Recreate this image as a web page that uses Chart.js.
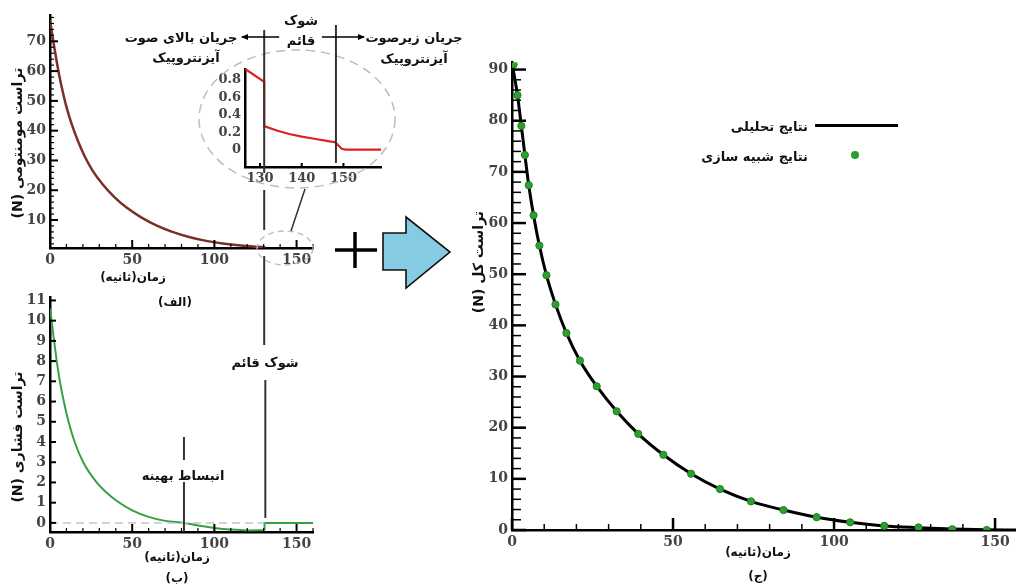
<!DOCTYPE html>
<html lang="fa">
<head>
<meta charset="utf-8">
<title>Thrust</title>
<script src="https://cdn.jsdelivr.net/npm/chart.js@4.4.1/dist/chart.umd.min.js"></script>
<style>
  html, body { margin: 0; padding: 0; background: #fff; }
  #page { position: relative; width: 1016px; height: 584px; overflow: hidden; background: #fff; }
  .plot { position: absolute; z-index: 1; }
  #deco { position: absolute; left: 0; top: 0; z-index: 2; }
  .fa { position: absolute; direction: rtl; white-space: nowrap; font-family: "DejaVu Sans", sans-serif;
        font-weight: bold; font-size: 13px; color: #111; line-height: 1; z-index: 3;
        transform: translate(-50%, -50%); }
  .rot { transform: translate(-50%, -50%) rotate(-90deg); }
  .key { position: absolute; z-index: 3; }
</style>
</head>
<body>
<div id="page">
  <svg id="deco" width="1016" height="584">
    <defs>
      <marker id="ah" markerWidth="7" markerHeight="6" refX="6" refY="3" orient="auto" markerUnits="userSpaceOnUse">
        <path d="M0,0 L7,3 L0,6 z" fill="#000"/>
      </marker>
    </defs>
    <!-- zoom ellipses -->
    <ellipse cx="297" cy="119" rx="98" ry="69" fill="none" stroke="#bdbdbd" stroke-width="1.5" stroke-dasharray="9 6"/>
    <ellipse cx="285" cy="248" rx="28" ry="17" fill="none" stroke="#bdbdbd" stroke-width="1.3" stroke-dasharray="6 4"/>
    <line x1="291" y1="231" x2="305" y2="189" stroke="#333" stroke-width="1.5"/>
    <!-- plus and arrow -->
    <line x1="335" y1="250" x2="377" y2="250" stroke="#000" stroke-width="3.5"/>
    <line x1="355" y1="232" x2="355" y2="268" stroke="#000" stroke-width="3.5"/>
    <polygon points="383,233 406,233 406,217 450,252 406,288 406,270 383,270" fill="#86cbe4" stroke="#111" stroke-width="1.6"/>
    <g id="marks" stroke="#333" stroke-width="2"></g>
  </svg>

  <div class="fa" style="left:181px;top:37px">جریان بالای صوت</div>
  <div class="fa" style="left:186px;top:57px">آیزنتروپیک</div>
  <div class="fa" style="left:301px;top:20px">شوک</div>
  <div class="fa" style="left:301px;top:40px">قائم</div>
  <div class="fa" style="left:414px;top:37px">جریان زیرصوت</div>
  <div class="fa" style="left:414px;top:58px">آیزنتروپیک</div>

  <div class="fa" style="left:133px;top:277px;font-size:12px">زمان(ثانیه)</div>
  <div class="fa" style="left:175px;top:302px;font-size:12px">(الف)</div>
  <div class="fa" style="left:265px;top:362px">شوک قائم</div>
  <div class="fa" style="left:183px;top:475px">انبساط بهینه</div>
  <div class="fa" style="left:177px;top:557px;font-size:12px">زمان(ثانیه)</div>
  <div class="fa" style="left:177px;top:578px;font-size:12px">(ب)</div>
  <div class="fa" style="left:758px;top:552px;font-size:12px">زمان(ثانیه)</div>
  <div class="fa" style="left:758px;top:576px;font-size:12px">(ج)</div>

  <div class="fa rot" style="left:17px;top:143px;font-size:14px">تراست مومنتومی (N)</div>
  <div class="fa rot" style="left:17px;top:437px;font-size:14px">تراست فشاری (N)</div>
  <div class="fa rot" style="left:478px;top:262px;font-size:14px">تراست کل (N)</div>

  <!-- legend of (ج) -->
  <div class="key" style="left:815px;top:124px;width:83px;height:3px;background:#000"></div>
  <div class="fa" style="left:auto;right:208px;top:126px;transform:translateY(-50%)">نتایج تحلیلی</div>
  <div class="key" style="left:851px;top:151px;width:8px;height:8px;border-radius:50%;background:#2e9e2e"></div>
  <div class="fa" style="left:auto;right:208px;top:156px;transform:translateY(-50%)">نتایج شبیه سازی</div>
</div>

<script>
// ---- values ----
// (الف) momentum thrust (N) vs time (s)
const momTime   = [0, 2, 4, 6, 8, 10, 13, 17, 21, 26, 32, 39, 47, 56, 65, 74, 84, 95, 105, 116, 126, 131];
const momThrust = [77, 70, 63.5, 57.5, 52.5, 48, 42.5, 36.5, 31.5, 26.5, 22, 17.8, 14, 10.7, 8.1, 6.1, 4.4, 3, 2.1, 1.4, 1, 0.85];

// zoomed window of (الف) around the shock
const zoomTime   = [126.4, 131, 131, 134, 137, 140, 143, 146, 148, 149.6, 150.5, 159];
const zoomThrust = [0.93, 0.78, 0.27, 0.22, 0.18, 0.15, 0.125, 0.1, 0.085, 0.01, 0, 0];

// (ب) pressure thrust
const presTime   = [0, 1, 2, 4.1, 5.8, 8.4, 11.3, 15, 20.2, 28.4, 35, 40.7, 50, 60, 70, 81.5, 90, 100, 110, 120, 130.5];
const presThrust = [10.6, 10, 9.3, 8, 7.1, 6, 5, 4, 3, 2, 1.45, 1.08, 0.62, 0.3, 0.1, 0, -0.13, -0.25, -0.33, -0.37, -0.36];
const presShockTime   = [130.5, 130.5, 160];
const presShockThrust = [-0.36, 0, 0];
const zeroRefTime  = [0, 130.5];
const zeroRefValue = [0, 0];

// (ج) total thrust
const anaTime   = [0, 1.7, 2.9, 4, 5.2, 6.7, 8.5, 10.7, 13.5, 16.9, 21.1, 26.3, 32.5, 39.2, 47, 55.6, 64.6, 74.2, 84.3, 94.6, 105, 115.6, 126.2, 136.7, 147.4, 157];
const anaThrust = [91.4, 85, 79, 73.3, 67.4, 61.5, 55.6, 49.8, 44.1, 38.5, 33.1, 28.1, 23.2, 18.8, 14.7, 11, 8, 5.6, 3.9, 2.5, 1.5, 0.8, 0.45, 0.18, 0.03, 0];
const simTime   = [0.5, 1.7, 2.9, 4, 5.2, 6.7, 8.5, 10.7, 13.5, 16.9, 21.1, 26.3, 32.5, 39.2, 47, 55.6, 64.6, 74.2, 84.3, 94.6, 105, 115.6, 126.2, 136.7, 147.4];
const simThrust = [91, 85, 79, 73.3, 67.4, 61.5, 55.6, 49.8, 44.1, 38.5, 33.1, 28.1, 23.2, 18.8, 14.7, 11, 8, 5.6, 3.9, 2.5, 1.5, 0.8, 0.5, 0.15, 0];

// tick labels
const xTicksMain   = [0, 50, 100, 150];
const yTicksMom    = [10, 20, 30, 40, 50, 60, 70];
const yTicksPres   = [0, 1, 2, 3, 4, 5, 6, 7, 8, 9, 10, 11];
const yTicksTotal  = [0, 10, 20, 30, 40, 50, 60, 70, 80, 90];
const xTicksZoom   = [130, 140, 150];
const yTicksZoom   = [0, 0.2, 0.4, 0.6, 0.8];

// event times (s)
const shockT     = 131;
const optExpT    = 81.5;
const exitShockT = 148.2;

// ---- layout: plot areas in page pixels ----
const boxA = { l: 50,  r: 313,  t: 13,  b: 248,   yW: 50, xH: 24, pt: 10, pr: 6 };
const boxB = { l: 50,  r: 313,  t: 295, b: 531.7, yW: 50, xH: 24, pt: 10, pr: 6 };
const boxC = { l: 512, r: 1016, t: 60,  b: 530,   yW: 60, xH: 26, pt: 10, pr: 6 };
const boxD = { l: 245, r: 381,  t: 61,  b: 166.7, yW: 36, xH: 20, pt: 4,  pr: 4 };

const page = document.getElementById('page');

// inward tecplot-like ticks
const inTicks = {
  id: 'inTicks',
  afterDatasetsDraw(chart, args, opts) {
    const ctx = chart.ctx, a = chart.chartArea;
    ctx.save();
    ctx.strokeStyle = '#000';
    ['x', 'y'].forEach(k => {
      const o = opts[k];
      if (!o) return;
      const s = chart.scales[k];
      const n0 = Math.ceil(s.min / o.minor - 1e-9), n1 = Math.floor(s.max / o.minor + 1e-9);
      for (let i = n0; i <= n1; i++) {
        const v = i * o.minor;
        const major = Math.abs(v / o.major - Math.round(v / o.major)) < 1e-6;
        const p = s.getPixelForValue(v);
        ctx.lineWidth = major ? o.w : o.w * 0.6;
        const len = major ? o.len : o.minorLen;
        ctx.beginPath();
        if (k === 'x') { ctx.moveTo(p, a.bottom); ctx.lineTo(p, a.bottom - len); }
        else { ctx.moveTo(a.left, p); ctx.lineTo(a.left + len, p); }
        ctx.stroke();
      }
    });
    ctx.restore();
  }
};

function series(xs, ys, color, width, extra) {
  return Object.assign({
    data: xs.map((x, i) => ({ x: x, y: ys[i] })),
    borderColor: color,
    borderWidth: width,
    pointRadius: 0,
    showLine: true,
    fill: false,
    tension: 0
  }, extra || {});
}

function axis(min, max, ticks, fontSize) {
  return {
    type: 'linear', min: min, max: max,
    grid: { display: false, drawTicks: false },
    border: { display: true, color: '#000', width: 2.5 },
    ticks: {
      autoSkip: false, color: '#444', padding: 4,
      font: { family: 'DejaVu Serif', size: fontSize, weight: 'bold' }
    },
    afterBuildTicks: s => { s.ticks = ticks.map(v => ({ value: v })); }
  };
}

function plot(box, datasets, xs, ys, tickOpts) {
  const cv = document.createElement('canvas');
  const w = Math.round(box.r - box.l + box.yW + box.pr);
  const h = Math.round(box.b - box.t + box.pt + box.xH);
  cv.width = w; cv.height = h;
  cv.className = 'plot';
  cv.style.left = (box.l - box.yW) + 'px';
  cv.style.top = (box.t - box.pt) + 'px';
  cv.style.width = w + 'px';
  cv.style.height = h + 'px';
  page.appendChild(cv);
  xs.afterFit = s => { s.height = box.xH; };
  ys.afterFit = s => { s.width = box.yW; };
  const chart = new Chart(cv, {
    type: 'scatter',
    data: { datasets: datasets },
    options: {
      responsive: false,
      animation: false,
      devicePixelRatio: 1,
      layout: { padding: { top: box.pt, right: box.pr, left: 0, bottom: 0 } },
      plugins: { legend: { display: false }, tooltip: { enabled: false }, inTicks: tickOpts },
      scales: { x: xs, y: ys }
    },
    plugins: [inTicks]
  });
  chart.pageLeft = box.l - box.yW;
  chart.pageTop = box.t - box.pt;
  return chart;
}

// (الف)
const chartA = plot(boxA,
  [series(momTime, momThrust, '#7b3027', 2.5, { cubicInterpolationMode: 'monotone' })],
  axis(0, 160, xTicksMain, 14), axis(0.6, 78.7, yTicksMom, 14),
  { x: { major: 50, minor: 10, len: 8, minorLen: 4, w: 2 }, y: { major: 10, minor: 2, len: 8, minorLen: 4, w: 2 } });

// (ب)
const chartB = plot(boxB,
  [
    series(zeroRefTime, zeroRefValue, '#c4c4c4', 1.5, { borderDash: [8, 5] }),
    series(presTime, presThrust, '#37a046', 2, { cubicInterpolationMode: 'monotone' }),
    series(presShockTime, presShockThrust, '#37a046', 2)
  ],
  axis(0, 160, xTicksMain, 14), axis(-0.45, 11.15, yTicksPres, 14),
  { x: { major: 50, minor: 10, len: 8, minorLen: 4, w: 2 }, y: { major: 1, minor: 1, len: 6, minorLen: 6, w: 2 } });

// (ج)
const chartC = plot(boxC,
  [
    series(simTime, simThrust, '#2e9e2e', 0, { showLine: false, pointRadius: 3.6, pointBackgroundColor: '#2e9e2e', pointBorderColor: '#1f7f1f', pointBorderWidth: 1 }),
    series(anaTime, anaThrust, '#000', 3, { cubicInterpolationMode: 'monotone' })
  ],
  axis(0, 156.5, xTicksMain, 14), axis(0, 91.4, yTicksTotal, 14),
  { x: { major: 50, minor: 10, len: 12, minorLen: 6, w: 2.5 }, y: { major: 10, minor: 2, len: 14, minorLen: 9, w: 2.5 } });

// zoom window
const chartD = plot(boxD,
  [series(zoomTime, zoomThrust, '#e0201c', 2.2)],
  axis(126.4, 159, xTicksZoom, 13), axis(-0.2, 0.93, yTicksZoom, 13),
  { x: { major: 10, minor: 10, len: 4, minorLen: 4, w: 2 } });

// ---- event lines, placed through the charts' own scales ----
const marks = document.getElementById('marks');
function seg(x1, y1, x2, y2, extra) {
  const l = document.createElementNS('http://www.w3.org/2000/svg', 'line');
  l.setAttribute('x1', x1); l.setAttribute('y1', y1);
  l.setAttribute('x2', x2); l.setAttribute('y2', y2);
  if (extra) Object.keys(extra).forEach(k => l.setAttribute(k, extra[k]));
  marks.appendChild(l);
}
const sx = chartD.pageLeft + chartD.scales.x.getPixelForValue(shockT);
const ex = chartD.pageLeft + chartD.scales.x.getPixelForValue(exitShockT);
const sxB = chartB.pageLeft + chartB.scales.x.getPixelForValue(shockT);
const zeroB = chartB.pageTop + chartB.scales.y.getPixelForValue(0);
const ox = chartB.pageLeft + chartB.scales.x.getPixelForValue(optExpT);
const axisB = chartB.pageTop + chartB.chartArea.bottom;

seg(sx, 30, sx, 173);
seg(sx, 190, sx, 230);
seg(sx, 256, sx, 345);
seg(sxB, 380, sxB, zeroB - 5);
seg(ex, 25, ex, 163);
seg(ox, 437, ox, 460);
seg(ox, 482, ox, axisB);
seg(sx + 15, 37, 242, 37, { 'stroke-width': 1.5, 'marker-end': 'url(#ah)', stroke: '#000' });
seg(ex - 14, 37, ex + 28, 37, { 'stroke-width': 1.5, 'marker-end': 'url(#ah)', stroke: '#000' });
</script>
</body>
</html>
